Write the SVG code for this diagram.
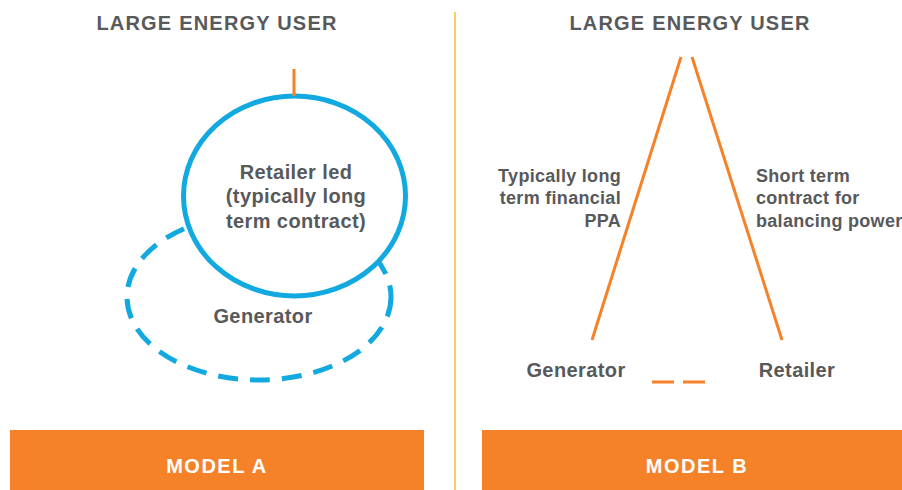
<svg xmlns="http://www.w3.org/2000/svg" width="902" height="490" viewBox="0 0 902 490">
<style>
text{font-family:"Liberation Sans",Arial,sans-serif;font-weight:bold;fill:#58595B}
.title{font-size:20px;letter-spacing:1.2px}
.lbl{font-size:20px;letter-spacing:0.4px}
.sm{font-size:18px;letter-spacing:0.3px}
.band{fill:#F58228}
.bandtxt{font-size:20px;fill:#FFFFFF;letter-spacing:1.5px}
.or{stroke:#F58228;stroke-width:3;fill:none}
.blue{stroke:#12A9E1;stroke-width:5;fill:none}
</style>
<rect width="902" height="490" fill="#FFFFFF"/>
<line x1="455" y1="12" x2="455" y2="490" stroke="#F8BD3A" stroke-width="1.5"/>

<g id="modelA-title"><text class="title" x="217" y="30" text-anchor="middle">LARGE ENERGY USER</text></g>
<g id="modelB-title"><text class="title" x="690" y="30" text-anchor="middle">LARGE ENERGY USER</text></g>

<g id="generatorA">
<ellipse cx="259" cy="297" rx="132" ry="83" class="blue" stroke-dasharray="20 12"/>
<text class="lbl" x="263" y="323" text-anchor="middle">Generator</text>
</g>
<g id="retailerA">
<ellipse cx="294.5" cy="196" rx="111" ry="100" class="blue" style="fill:#FFFFFF"/>
<text class="lbl" x="296" y="179" text-anchor="middle">Retailer led</text>
<text class="lbl" x="296" y="203" text-anchor="middle">(typically long</text>
<text class="lbl" x="296" y="228" text-anchor="middle">term contract)</text>
</g>

<g id="generatorB"><text class="lbl" x="576" y="377" text-anchor="middle">Generator</text></g>
<g id="retailerB"><text class="lbl" x="797" y="377" text-anchor="middle">Retailer</text></g>

<g id="connectors">
<line x1="294" y1="69" x2="294" y2="96" class="or"/>
<line x1="681" y1="57" x2="592" y2="340" class="or"/>
<line x1="692" y1="57" x2="782" y2="340" class="or"/>
<line x1="652" y1="382" x2="705" y2="382" class="or" stroke-dasharray="22 9"/>
</g>
<g id="labelsB">
<text class="sm" x="621" y="182" text-anchor="end">Typically long</text>
<text class="sm" x="621" y="204" text-anchor="end">term financial</text>
<text class="sm" x="621" y="227" text-anchor="end">PPA</text>
<text class="sm" x="756" y="182">Short term</text>
<text class="sm" x="756" y="204">contract for</text>
<text class="sm" x="756" y="227">balancing power</text>
</g>

<g id="modelA"><rect class="band" x="10" y="430" width="414" height="60"/>
<text class="bandtxt" x="217" y="473" text-anchor="middle">MODEL A</text></g>
<g id="modelB"><rect class="band" x="482" y="430" width="420" height="60"/>
<text class="bandtxt" x="697" y="473" text-anchor="middle">MODEL B</text></g>
</svg>
